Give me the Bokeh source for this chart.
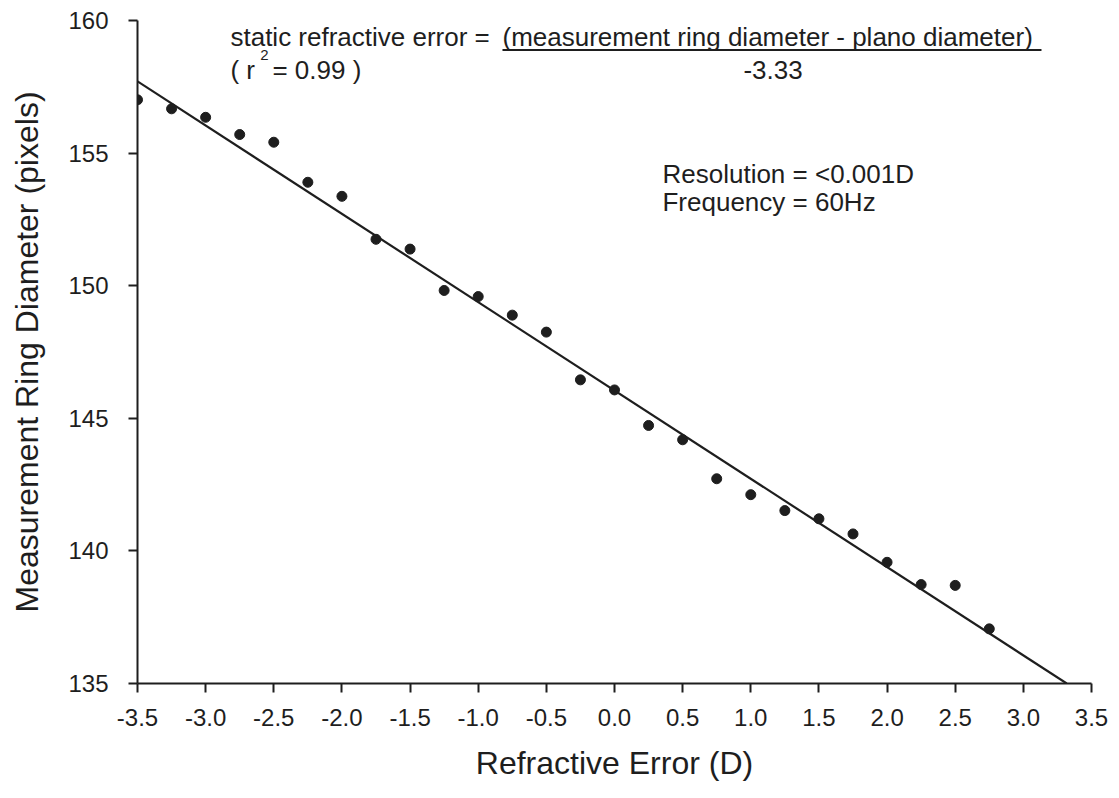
from bokeh.plotting import figure
from bokeh.models import Range1d, FixedTicker, PrintfTickFormatter, Label, ColumnDataSource
from bokeh.embed import file_html
from bokeh.resources import INLINE

# ---------------- data ----------------
refractive_error = [-3.50, -3.25, -3.00, -2.75, -2.50, -2.25, -2.00, -1.75, -1.50,
                    -1.25, -1.00, -0.75, -0.50, -0.25, 0.00, 0.25, 0.50, 0.75,
                    1.00, 1.25, 1.50, 1.75, 2.00, 2.25, 2.50, 2.75]
ring_diameter = [157.01, 156.67, 156.35, 155.70, 155.41, 153.90, 153.37, 151.75, 151.38,
                 149.82, 149.59, 148.89, 148.25, 146.45, 146.07, 144.73, 144.19, 142.72,
                 142.12, 141.52, 141.21, 140.64, 139.57, 138.73, 138.70, 137.06]
fit_slope = -3.33
plano_diameter = 146.05

x_ticks = [-3.5, -3.0, -2.5, -2.0, -1.5, -1.0, -0.5, 0.0, 0.5, 1.0, 1.5, 2.0, 2.5, 3.0, 3.5]
y_ticks = [135, 140, 145, 150, 155, 160]
x_lim = (-3.5, 3.5)
y_lim = (135, 160)

FONT = "Liberation Sans"
INK = "#1e1e1e"

p = figure(width=1119, height=798, output_backend="svg", toolbar_location=None,
           x_range=Range1d(*x_lim), y_range=Range1d(*y_lim),
           min_border_left=137, min_border_right=28, min_border_top=20, min_border_bottom=115)
p.outline_line_color = None
p.xgrid.visible = False
p.ygrid.visible = False
p.background_fill_color = "white"
p.border_fill_color = "white"

# fitted line: diameter = plano + slope * error, drawn from left edge until it meets the x-axis
fit_x = [x_lim[0], (y_lim[0] - plano_diameter) / fit_slope]
fit_y = [plano_diameter + fit_slope * v for v in fit_x]
p.line(fit_x, fit_y, line_color=INK, line_width=2.2)

src = ColumnDataSource(dict(x=refractive_error, y=ring_diameter))
p.scatter("x", "y", source=src, size=10, fill_color=INK, line_color=INK)

for ax in (p.xaxis[0], p.yaxis[0]):
    ax.axis_line_color = INK
    ax.axis_line_width = 2
    ax.major_tick_line_color = INK
    ax.major_tick_line_width = 2
    ax.major_tick_out = 9
    ax.major_tick_in = 0
    ax.minor_tick_line_color = None
    ax.major_label_text_font = FONT
    ax.major_label_text_font_size = "24px"
    ax.major_label_text_color = INK
    ax.axis_label_text_font = FONT
    ax.axis_label_text_font_size = "32px"
    ax.axis_label_text_font_style = "normal"
    ax.axis_label_text_color = INK

p.xaxis.ticker = FixedTicker(ticks=x_ticks)
p.xaxis.formatter = PrintfTickFormatter(format="%.1f")
p.xaxis.major_label_standoff = 16
p.xaxis.axis_label = "Refractive Error (D)"
p.xaxis.axis_label_standoff = 16

p.yaxis.ticker = FixedTicker(ticks=y_ticks)
p.yaxis.major_label_standoff = 20
p.yaxis.axis_label = "Measurement Ring Diameter (pixels)"
p.yaxis.axis_label_standoff = 20

# ---------------- annotations ----------------
def lab(text, x, y, size="26px"):
    p.add_layout(Label(x=x, y=y, text=text, text_font=FONT, text_font_size=size,
                       text_color=INK, text_baseline="alphabetic", text_align="left"))

lab("static refractive error = ", -2.818, 159.36)
lab("(measurement ring diameter - plano diameter)", -0.822, 159.36)
p.segment(x0=[-0.822], y0=[158.89], x1=[3.133], y1=[158.89], line_color=INK, line_width=2)
lab("( r", -2.818, 158.12)
lab("2", -2.6, 158.70, size="15px")
lab("= 0.99 )", -2.51, 158.12)
lab("-3.33", 0.946, 158.12)
lab("Resolution = <0.001D", 0.352, 154.23)
lab("Frequency = 60Hz", 0.352, 153.14)

open("out.html", "w").write(file_html(p, INLINE))
